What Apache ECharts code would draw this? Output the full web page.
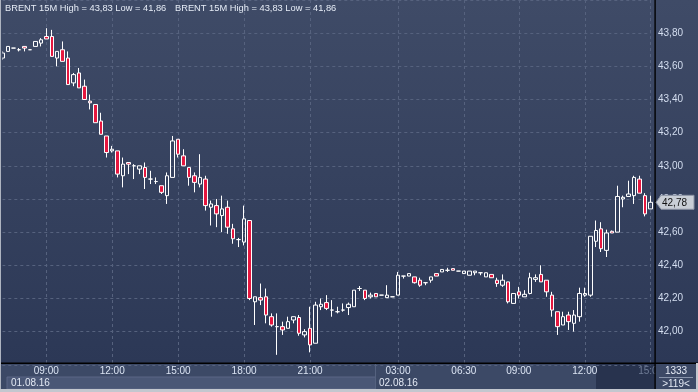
<!DOCTYPE html>
<html><head><meta charset="utf-8">
<script src="https://cdn.jsdelivr.net/npm/echarts@6.0.0/dist/echarts.min.js"></script>
<style>html,body{margin:0;padding:0;background:#33405d}#c{width:698px;height:392px}</style>
</head><body><div id="c"></div>
<script>
// ---- data ----
const day1Label = '01.08.16';
const day2Label = '02.08.16';
const day1Times = [
'07:00','07:15','07:30','07:45','08:00','08:15','08:30','08:45',
'09:00','09:15','09:30','09:45','10:00','10:15','10:30','10:45',
'11:00','11:15','11:30','11:45','12:00','12:15','12:30','12:45',
'13:00','13:15','13:30','13:45','14:00','14:15','14:30','14:45',
'15:00','15:15','15:30','15:45','16:00','16:15','16:30','16:45',
'17:00','17:15','17:30','17:45','18:00','18:15','18:30','18:45',
'19:00','19:15','19:30','19:45','20:00','20:15','20:30','20:45',
'21:00','21:15','21:30','21:45','22:00','22:15','22:30','22:45',
'23:00','23:15','23:30','23:45'];
const day2Times = [
'02:00','02:15','02:30','02:45','03:00','03:15','03:30','03:45',
'04:00','04:30','04:45','05:00','05:30','05:45','06:00','06:15',
'06:30','06:45','07:00','07:15','07:30','07:45','08:00','08:15','08:30','08:45',
'09:00','09:15','09:30','09:45','10:00','10:15','10:30','10:45',
'11:00','11:15','11:30','11:45','12:00','12:15','12:30','12:45',
'13:00','13:15','13:30','13:45','14:00','14:15','14:30','14:45','15:00'];
const tickLabels = ['01.08.16 09:00','01.08.16 12:00','01.08.16 15:00','01.08.16 18:00','01.08.16 21:00',
  '02.08.16 03:00','02.08.16 06:30','02.08.16 09:00','02.08.16 12:00','02.08.16 15:00'];
const opens = [
43.65,43.69,43.71,43.70,43.72,43.70,43.72,43.74,43.78,43.78,
43.65,43.70,43.65,43.50,43.56,43.48,43.39,43.37,43.27,43.18,
43.09,43.09,42.94,43.02,43.00,42.98,42.99,42.92,42.905,42.88,
42.82,42.93,43.16,43.06,42.99,42.94,42.89,42.92,42.75,42.76,
42.70,42.75,42.62,42.555,42.54,42.67,42.18,42.205,42.21,42.09,
42.03,42.03,42.02,42.07,42.085,41.98,42.02,41.93,42.15,42.175,
42.13,42.12,42.13,42.145,42.15,42.26,42.25,42.21,42.23,42.22,
42.205,42.21,42.22,42.335,42.335,42.33,42.31,42.295,42.31,42.35,
42.36,42.37,42.38,42.365,42.35,42.34,42.355,42.355,42.33,42.345,
42.31,42.28,42.30,42.17,42.24,42.21,42.23,42.315,42.345,42.31,
42.22,42.12,42.04,42.10,42.05,42.09,42.22,42.22,42.545,42.62,
42.49,42.605,42.60,42.80,42.815,42.82,42.92,42.82,42.74];
const closes = [
43.68,43.72,43.71,43.70,43.71,43.70,43.75,43.76,43.765,43.66,
43.69,43.63,43.49,43.55,43.47,43.40,43.38,43.26,43.19,43.08,
43.10,42.95,43.01,43.01,43.00,43.00,42.93,42.92,42.905,42.84,
42.94,43.15,43.07,43.00,42.93,42.90,42.93,42.76,42.77,42.71,
42.74,42.63,42.56,42.555,42.68,42.20,42.21,42.19,42.10,42.04,
42.03,42.01,42.06,42.09,41.99,42.00,41.92,42.16,42.165,42.14,
42.13,42.12,42.13,42.165,42.25,42.26,42.20,42.22,42.21,42.22,
42.22,42.21,42.34,42.335,42.35,42.295,42.28,42.295,42.33,42.335,
42.375,42.37,42.37,42.365,42.365,42.365,42.365,42.355,42.355,42.325,
42.29,42.31,42.18,42.23,42.22,42.225,42.325,42.325,42.30,42.24,
42.13,42.03,42.09,42.06,42.10,42.23,42.23,42.575,42.61,42.50,
42.595,42.595,42.815,42.81,42.83,42.93,42.835,42.71,42.78];
const lows = [
43.64,43.69,43.71,43.69,43.69,43.70,43.72,43.72,43.765,43.66,
43.60,43.63,43.49,43.48,43.47,43.40,43.34,43.26,43.19,43.05,
43.08,42.93,42.87,42.95,42.92,42.95,42.86,42.89,42.89,42.83,
42.77,42.93,43.05,43.00,42.88,42.84,42.87,42.73,42.64,42.63,
42.60,42.59,42.53,42.51,42.52,42.19,42.04,42.16,42.05,42.03,
41.86,41.98,42.02,42.05,41.975,41.965,41.875,41.93,42.13,42.13,
42.09,42.11,42.12,42.10,42.15,42.245,42.19,42.20,42.21,42.22,
42.205,42.21,42.22,42.32,42.335,42.29,42.27,42.28,42.295,42.335,
42.36,42.36,42.37,42.365,42.35,42.34,42.34,42.34,42.33,42.325,
42.27,42.27,42.17,42.17,42.20,42.21,42.225,42.30,42.30,42.21,
42.09,41.98,42.04,42.01,42.00,42.06,42.21,42.21,42.51,42.48,
42.45,42.595,42.60,42.75,42.815,42.77,42.835,42.695,42.74];
const highs = [
43.69,43.72,43.71,43.71,43.72,43.70,43.75,43.77,43.83,43.82,
43.69,43.75,43.69,43.56,43.59,43.52,43.43,43.37,43.32,43.18,
43.12,43.09,43.05,43.02,43.01,43.00,43.02,42.97,42.93,42.88,
42.96,43.18,43.16,43.10,42.99,42.96,43.07,42.94,42.79,42.80,
42.82,42.79,42.65,42.565,42.76,42.67,42.21,42.29,42.26,42.11,
42.11,42.06,42.09,42.09,42.10,42.015,42.15,42.18,42.20,42.22,
42.19,42.15,42.17,42.175,42.25,42.275,42.25,42.235,42.23,42.22,
42.28,42.21,42.36,42.335,42.35,42.33,42.325,42.295,42.33,42.35,
42.375,42.385,42.38,42.365,42.365,42.365,42.365,42.355,42.355,42.345,
42.325,42.345,42.30,42.23,42.27,42.25,42.355,42.345,42.40,42.31,
42.24,42.12,42.12,42.12,42.13,42.265,42.265,42.575,42.67,42.66,
42.615,42.61,42.88,42.82,42.91,42.94,42.94,42.835,42.82];
const headerText = 'BRENT 15M High = 43,83 Low = 41,86';
const barsTotal = '1333';
const barsVisible = '>119<';

// ---- chart ----
const FONT = 'Liberation Sans';
const categories = day1Times.map(t => day1Label + ' ' + t).concat(day2Times.map(t => day2Label + ' ' + t));
const tickSet = new Set(tickLabels);
const lastIdx = categories.length - 1;
const candleData = opens.map((o, i) => [o, closes[i], lows[i], highs[i]]);
const showTick = (idx, val) => tickSet.has(categories[idx]);
const bgGrad = {type:'linear', x:0, y:0, x2:0, y2:1, colorStops:[{offset:0,color:'#3f4b67'},{offset:1,color:'#2c3856'}]};

const chart = echarts.init(document.getElementById('c'), null, {renderer:'canvas'});
chart.setOption({
  animation: false,
  backgroundColor: '#33405d',
  grid: {left: 2.3, right: 47.3, top: -3.48, bottom: 27.22, containLabel: false},
  xAxis: {
    type: 'category', data: categories, boundaryGap: false,
    axisLine: {show: false}, axisTick: {show: false},
    axisLabel: {
      interval: showTick, margin: 1.5, color: '#dbe4f3', fontSize: 10, fontFamily: FONT,
      formatter: (v, i) => i === lastIdx ? '{dim|' + v.slice(9) + '}' : v.slice(9),
      rich: {dim: {color: '#6f7c96', fontSize: 10, fontFamily: FONT}}
    },
    splitLine: {show: true, interval: showTick, lineStyle: {color: '#56627e', type: [3, 3], width: 1}}
  },
  yAxis: {
    type: 'value', position: 'right', min: 41.8, max: 44.0, interval: 0.2, scale: true,
    axisLine: {show: false}, axisTick: {show: false},
    axisLabel: {margin: 7.3, color: '#d4def0', fontSize: 10, fontFamily: FONT, showMinLabel: false, showMaxLabel: false,
      formatter: v => v.toFixed(2).replace('.', ',')},
    splitLine: {show: true, lineStyle: {color: '#56627e', type: [3, 3], width: 1}}
  },
  series: [{
    type: 'candlestick', data: candleData, barWidth: 4, clip: false,
    itemStyle: {color: 'rgba(0,0,0,0)', color0: '#e5173f', borderColor: '#ffffff', borderColor0: '#ffffff', borderWidth: 1},
    emphasis: {disabled: true}
  }]
});

const py = chart.convertToPixel({yAxisIndex: 0}, closes[lastIdx]);
const priceStr = closes[lastIdx].toFixed(2).replace('.', ',');
const F10 = '10px "' + FONT + '"';
const F9 = '9.3px "' + FONT + '"';
chart.setOption({
  graphic: [
    {type:'rect', z:-100, silent:true, shape:{x:0,y:0,width:698,height:363}, style:{fill:bgGrad}},
    {type:'rect', z:10, silent:true, shape:{x:0,y:0,width:2.4,height:363}, style:{fill:bgGrad}},
    {type:'rect', z:-50, silent:true, shape:{x:0,y:363,width:698,height:29}, style:{fill:'#3c4966'}},
    {type:'rect', z:-45, silent:true, shape:{x:7,y:377,width:368.5,height:12}, style:{fill:'#4a5776', stroke:'#5a6785', lineWidth:1}},
    {type:'line', z:-44, silent:true, shape:{x1:375.5,y1:364,x2:375.5,y2:389}, style:{stroke:'#55627f', lineWidth:1}},
    {type:'rect', z:-30, silent:true, shape:{x:596,y:364,width:59,height:25}, style:{fill:'#28334e'}},
    {type:'rect', z:20, silent:true, shape:{x:0,y:362.5,width:698,height:1.5}, style:{fill:'#000000'}},
    {type:'rect', z:50, silent:true, shape:{x:655.6,y:364,width:41,height:25}, style:{fill:'#3c4966'}},
    {type:'rect', z:60, silent:true, shape:{x:654.4,y:0,width:1.4,height:392}, style:{fill:'#000000'}},
    {type:'line', z:55, silent:true, shape:{x1:659,y1:377.5,x2:693,y2:377.5}, style:{stroke:'#8894ab', lineWidth:1}},
    {type:'text', z:56, silent:true, x:676, y:371, style:{text:barsTotal, fill:'#e3e9f4', font:F10, align:'center', verticalAlign:'middle'}},
    {type:'text', z:56, silent:true, x:676, y:384, style:{text:barsVisible, fill:'#e3e9f4', font:F10, align:'center', verticalAlign:'middle'}},
    {type:'text', z:30, silent:true, x:11, y:383.5, style:{text:day1Label, fill:'#e3e9f4', font:F10, verticalAlign:'middle'}},
    {type:'text', z:30, silent:true, x:379, y:383.5, style:{text:day2Label, fill:'#e3e9f4', font:F10, verticalAlign:'middle'}},
    {type:'text', z:30, silent:true, x:5, y:8.5, style:{text:headerText, fill:'#e6ecf6', font:F9, verticalAlign:'middle'}},
    {type:'text', z:30, silent:true, x:175, y:8.5, style:{text:headerText, fill:'#e6ecf6', font:F9, verticalAlign:'middle'}},
    {type:'rect', z:70, silent:true, shape:{x:0,y:0,width:1,height:392}, style:{fill:'#aeb4c0'}},
    {type:'rect', z:70, silent:true, shape:{x:0,y:389,width:698,height:3}, style:{fill:'#c3c7cf'}},
    {type:'rect', z:70, silent:true, shape:{x:696,y:363,width:2,height:29}, style:{fill:'#c3c7cf'}},
    {type:'polygon', z:65, silent:true, shape:{points:[[656,py],[661,py-7],[694,py-7],[694,py+7],[661,py+7]]}, style:{fill:'#c9ced6', stroke:'#8a92a3', lineWidth:1}},
    {type:'text', z:66, silent:true, x:662, y:py+0.5, style:{text:priceStr, fill:'#111111', font:F10, verticalAlign:'middle'}}
  ]
});
</script></body></html>
